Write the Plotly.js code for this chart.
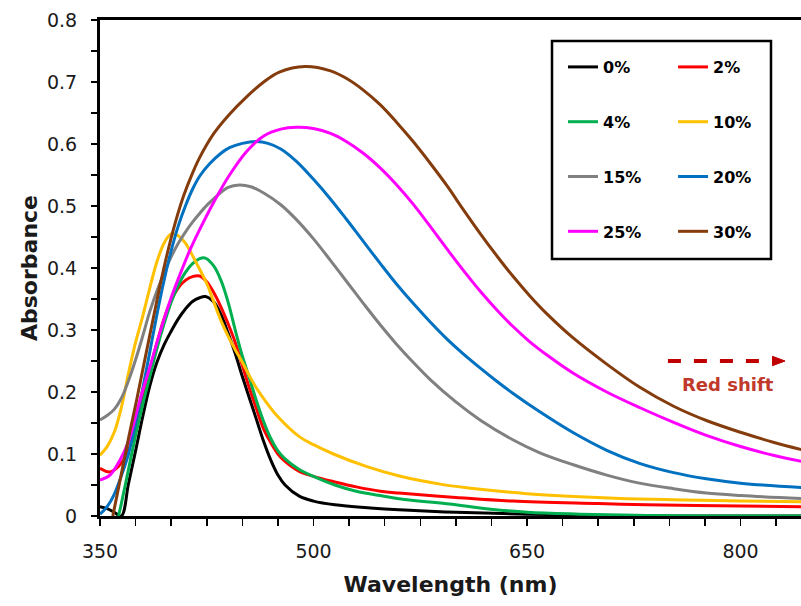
<!DOCTYPE html>
<html>
<head>
<meta charset="utf-8">
<script src="https://cdn.plot.ly/plotly-3.0.1.min.js"></script>
<style>html,body{margin:0;padding:0;background:#fff;}#chart{width:801px;height:606px;}</style>
</head>
<body>
<div id="chart"></div>
<script>
// ---- data ----
const seriesNames = ["0%", "2%", "4%", "10%", "15%", "20%", "25%", "30%"];
const seriesColors = ["#000000", "#FF0000", "#00B050", "#FFC000", "#808080", "#0070C0", "#FF00FF", "#843C0C"];

const wl0  = [350,355,360,365,370,375,380,385,390,395,400,405,410,415,420,424,430,435,440,445,450,455,460,465,470,475,480,490,500,515,540,560,600,650,700,750,843];
const abs0 = [0.015,0.012,0.006,0.0,0.052,0.105,0.16,0.21,0.248,0.276,0.298,0.318,0.334,0.346,0.352,0.354,0.345,0.325,0.295,0.262,0.225,0.19,0.155,0.12,0.09,0.066,0.05,0.032,0.024,0.018,0.013,0.01,0.006,0.003,0.001,0,0];

const wl2  = [350,357,363,369,375,380,385,390,395,400,405,410,415,420,425,430,435,440,445,450,455,460,465,470,475,480,490,500,515,530,547,560,600,640,700,734,800,843];
const abs2 = [0.077,0.071,0.08,0.1,0.145,0.19,0.235,0.279,0.318,0.348,0.368,0.38,0.386,0.387,0.378,0.36,0.337,0.31,0.28,0.243,0.206,0.172,0.14,0.118,0.1,0.088,0.072,0.064,0.055,0.047,0.04,0.037,0.03,0.024,0.02,0.018,0.016,0.015];

const wl4  = [363,365,370,375,380,385,390,395,400,405,410,415,420,424,430,435,440,445,450,455,460,465,470,475,480,490,500,515,530,547,560,600,617,650,687,734,780,843];
const abs4 = [0,0.02,0.075,0.13,0.18,0.225,0.27,0.31,0.345,0.372,0.393,0.407,0.415,0.416,0.403,0.38,0.345,0.3,0.258,0.222,0.185,0.152,0.125,0.105,0.092,0.075,0.064,0.05,0.04,0.033,0.028,0.018,0.013,0.006,0.003,0.001,0,0];

const wl10  = [350,355,360,365,370,375,380,385,390,395,400,405,410,415,420,425,430,435,440,445,450,455,460,467,475,490,500,514,537,561,590,617,650,687,720,760,800,843];
const abs10 = [0.098,0.112,0.135,0.175,0.23,0.28,0.322,0.368,0.41,0.44,0.455,0.452,0.44,0.42,0.398,0.375,0.345,0.315,0.29,0.268,0.248,0.226,0.206,0.183,0.16,0.128,0.115,0.1,0.08,0.064,0.051,0.043,0.036,0.031,0.028,0.026,0.024,0.023];

const wl15  = [350,355,360,365,370,375,380,385,390,395,400,405,410,415,420,425,430,440,448,456,465,477,488,500,512,523,535,547,558,570,582,600,617,640,659,682,706,729,753,776,800,843];
const abs15 = [0.155,0.162,0.172,0.19,0.218,0.252,0.29,0.33,0.363,0.392,0.418,0.44,0.458,0.474,0.488,0.501,0.512,0.53,0.534,0.531,0.521,0.502,0.478,0.447,0.412,0.379,0.343,0.308,0.278,0.248,0.22,0.184,0.155,0.123,0.102,0.083,0.066,0.053,0.044,0.037,0.033,0.028];

const wl20  = [350,355,360,365,370,375,380,385,390,395,400,405,410,415,420,427,435,441,450,460,468,477,488,500,512,523,535,547,558,570,582,594,605,617,629,640,659,682,706,729,753,776,800,843];
const abs20 = [0.003,0.015,0.035,0.065,0.1,0.15,0.205,0.265,0.325,0.38,0.428,0.468,0.5,0.527,0.548,0.568,0.585,0.594,0.601,0.604,0.601,0.592,0.572,0.543,0.511,0.479,0.443,0.407,0.375,0.343,0.313,0.285,0.262,0.239,0.217,0.198,0.168,0.135,0.106,0.085,0.07,0.06,0.053,0.046];

const wl25  = [350,357,364,370,378,385,392,400,408,413,420,432,441,453,465,477,488,500,512,523,535,547,558,570,582,594,605,617,629,640,652,665,682,706,729,753,776,800,823,843];
const abs25 = [0.058,0.066,0.09,0.12,0.187,0.24,0.295,0.352,0.4,0.428,0.462,0.515,0.55,0.588,0.613,0.624,0.627,0.625,0.617,0.604,0.585,0.561,0.535,0.503,0.467,0.43,0.397,0.363,0.332,0.306,0.281,0.258,0.231,0.2,0.175,0.151,0.13,0.112,0.098,0.088];

const wl30  = [359,365,370,376,385,392,397,403,409,415,420,430,441,453,465,476,494,512,523,535,547,558,570,582,594,605,617,629,640,652,664,682,706,729,753,776,800,823,843];
const abs30 = [0,0.068,0.125,0.19,0.292,0.37,0.421,0.474,0.518,0.553,0.578,0.617,0.648,0.676,0.7,0.716,0.725,0.718,0.706,0.687,0.663,0.636,0.604,0.569,0.532,0.495,0.456,0.419,0.387,0.355,0.326,0.288,0.245,0.208,0.177,0.154,0.135,0.119,0.107];

const xTickVals = [350, 500, 650, 800];
const yTickVals = [0, 0.1, 0.2, 0.3, 0.4, 0.5, 0.6, 0.7, 0.8];

// red-shift arrow (data coordinates)
const arrowStartX = 749, arrowEndX = 822, arrowTipX = 831.3, arrowY = 0.25;
const redShiftLabel = "Red shift";

// ---- build traces ----
const xs = [wl0, wl2, wl4, wl10, wl15, wl20, wl25, wl30];
const ys = [abs0, abs2, abs4, abs10, abs15, abs20, abs25, abs30];
const legendOf = ["legend", "legend2", "legend", "legend2", "legend", "legend2", "legend", "legend2"];

const FONT = "DejaVu Sans";
const traces = seriesNames.map((n, i) => ({
  type: "scatter",
  mode: "lines",
  name: n,
  x: xs[i],
  y: ys[i],
  legend: legendOf[i],
  legendgroup: "g" + i,
  line: {color: seriesColors[i], width: 3, shape: "spline", smoothing: 1},
  hoverinfo: "skip"
}));

const legendCommon = {
  bgcolor: "rgba(0,0,0,0)",
  borderwidth: 0,
  font: {family: FONT, size: 16, color: "#000", weight: "bold"},
  traceorder: "grouped",
  tracegroupgap: 31,
  itemwidth: 30,
  yanchor: "top",
  xanchor: "left",
  y: 0.9395
};

const layout = {
  width: 801,
  height: 606,
  margin: {l: 100, r: 0, t: 20, b: 90},
  paper_bgcolor: "#ffffff",
  plot_bgcolor: "#ffffff",
  font: {family: FONT, color: "#1a1a1a"},
  showlegend: true,
  legend: Object.assign({}, legendCommon, {x: 0.6605}),
  legend2: Object.assign({}, legendCommon, {x: 0.8175}),
  xaxis: {
    range: [350, 842.5],
    tickmode: "array",
    tickvals: xTickVals,
    ticktext: xTickVals.map(String),
    ticks: "outside",
    ticklen: 7,
    tickwidth: 1.5,
    tickcolor: "#000",
    ticklabelstandoff: 9,
    minor: {dtick: 25, tick0: 350, ticks: "outside", ticklen: 7, tickwidth: 1.5, tickcolor: "#000"},
    showline: true,
    linewidth: 3,
    linecolor: "#000",
    mirror: true,
    showgrid: false,
    zeroline: false,
    tickfont: {family: FONT, size: 19, color: "#1a1a1a"},
    title: {text: "Wavelength (nm)", font: {family: FONT, size: 22, color: "#1a1a1a", weight: "bold"}, standoff: 16}
  },
  yaxis: {
    range: [0, 0.8],
    tickmode: "array",
    tickvals: yTickVals,
    ticktext: yTickVals.map(v => String(v)),
    ticks: "outside",
    ticklen: 6,
    tickwidth: 1.5,
    tickcolor: "#000",
    ticklabelstandoff: 10,
    minor: {dtick: 0.05, ticks: "outside", ticklen: 6, tickwidth: 1.5, tickcolor: "#000"},
    showline: true,
    linewidth: 3,
    linecolor: "#000",
    mirror: false,
    showgrid: false,
    zeroline: false,
    tickfont: {family: FONT, size: 19, color: "#1a1a1a"},
    title: {text: "Absorbance", font: {family: FONT, size: 22, color: "#1a1a1a", weight: "bold"}, standoff: 4}
  },
  shapes: [
    // legend frame
    {type: "rect", xref: "paper", yref: "paper", x0: 0.6448, x1: 0.9572, y0: 0.5181, y1: 0.9577,
     line: {color: "#000", width: 2.5}, fillcolor: "rgba(0,0,0,0)", layer: "above"},
    // dashed red-shift arrow shaft
    {type: "line", xref: "x", yref: "y", x0: arrowStartX, x1: arrowEndX, y0: arrowY, y1: arrowY,
     line: {color: "#C00000", width: 4, dash: "13px,13px"}},
    // arrow head
    {type: "path", xref: "x", yref: "y",
     path: `M ${arrowEndX + 0.5},${arrowY + 0.0075} L ${arrowTipX},${arrowY} L ${arrowEndX + 0.5},${arrowY - 0.0075} Z`,
     fillcolor: "#C00000", line: {color: "#C00000", width: 1}}
  ],
  annotations: [
    {xref: "x", yref: "y", x: 790.9, y: 0.2113, text: redShiftLabel, showarrow: false,
     font: {family: FONT, size: 18, color: "#C0392B", weight: "bold"}}
  ]
};

Plotly.newPlot("chart", traces, layout, {displayModeBar: false, staticPlot: true});
</script>
</body>
</html>
